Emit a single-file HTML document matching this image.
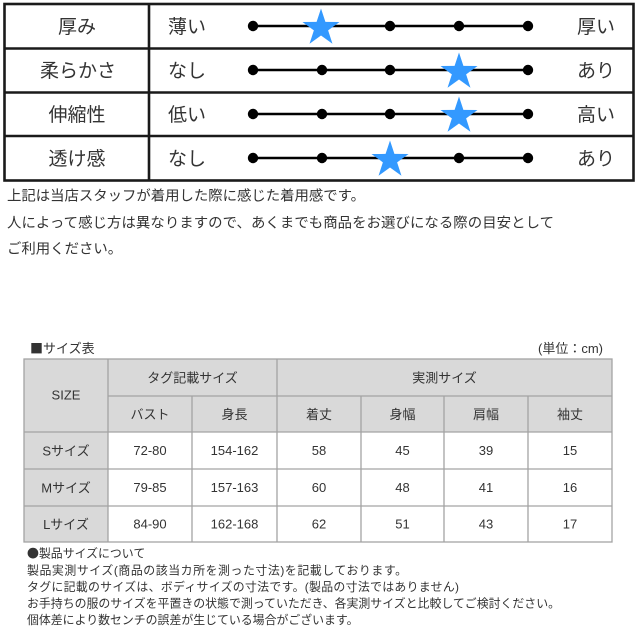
<!DOCTYPE html>
<html>
<head>
<meta charset="utf-8">
<style>
html,body{margin:0;padding:0;background:#fff;}
body{width:640px;height:640px;overflow:hidden;}
svg{display:block;}
text{font-family:"Liberation Sans","Noto Sans CJK JP",sans-serif;fill:#333;}
.cjk{font-family:"Noto Sans CJK JP",sans-serif;}
</style>
</head>
<body>
<svg width="640" height="640" viewBox="0 0 640 640" xmlns="http://www.w3.org/2000/svg">
  <defs>
    <polygon id="star" points="0,-19.5 4.41,-6.07 18.55,-6.03 7.13,2.32 11.46,15.78 0,7.5 -11.46,15.78 -7.13,2.32 -18.55,-6.03 -4.41,-6.07" fill="#3399ff"/>
  </defs>

  <!-- top table -->
  <rect x="4.5" y="4" width="629" height="176.5" fill="#fff" stroke="#1a1a1a" stroke-width="2.6"/>
  <line x1="149" y1="4" x2="149" y2="180.5" stroke="#1a1a1a" stroke-width="2.6"/>
  <line x1="4.5" y1="48.5" x2="633.5" y2="48.5" stroke="#1a1a1a" stroke-width="2.6"/>
  <line x1="4.5" y1="92.5" x2="633.5" y2="92.5" stroke="#1a1a1a" stroke-width="2.6"/>
  <line x1="4.5" y1="136" x2="633.5" y2="136" stroke="#1a1a1a" stroke-width="2.6"/>

  <g font-size="19">
    <text x="77" y="33.2" text-anchor="middle">厚み</text>
    <text x="78" y="77.2" text-anchor="middle">柔らかさ</text>
    <text x="77" y="121.2" text-anchor="middle">伸縮性</text>
    <text x="77" y="165.2" text-anchor="middle">透け感</text>

    <text x="168" y="33.2">薄い</text>
    <text x="168" y="77.2">なし</text>
    <text x="168" y="121.2">低い</text>
    <text x="168" y="165.2">なし</text>

    <text x="577" y="33.2">厚い</text>
    <text x="577" y="77.2">あり</text>
    <text x="577" y="121.2">高い</text>
    <text x="577" y="165.2">あり</text>
  </g>

  <!-- scale lines -->
  <g stroke="#000" stroke-width="2.5">
    <line x1="253" y1="26" x2="528" y2="26"/>
    <line x1="253" y1="70" x2="528" y2="70"/>
    <line x1="253" y1="114" x2="528" y2="114"/>
    <line x1="253" y1="158" x2="528" y2="158"/>
  </g>
  <g fill="#000">
    <circle cx="253" cy="26" r="5.2"/><circle cx="322" cy="26" r="5.2"/><circle cx="390" cy="26" r="5.2"/><circle cx="459" cy="26" r="5.2"/><circle cx="528" cy="26" r="5.2"/>
    <circle cx="253" cy="70" r="5.2"/><circle cx="322" cy="70" r="5.2"/><circle cx="390" cy="70" r="5.2"/><circle cx="459" cy="70" r="5.2"/><circle cx="528" cy="70" r="5.2"/>
    <circle cx="253" cy="114" r="5.2"/><circle cx="322" cy="114" r="5.2"/><circle cx="390" cy="114" r="5.2"/><circle cx="459" cy="114" r="5.2"/><circle cx="528" cy="114" r="5.2"/>
    <circle cx="253" cy="158" r="5.2"/><circle cx="322" cy="158" r="5.2"/><circle cx="390" cy="158" r="5.2"/><circle cx="459" cy="158" r="5.2"/><circle cx="528" cy="158" r="5.2"/>
  </g>
  <use href="#star" transform="translate(321,28)"/>
  <use href="#star" transform="translate(459,72)"/>
  <use href="#star" transform="translate(459,116)"/>
  <use href="#star" transform="translate(390,160)"/>

  <!-- notes under top table -->
  <g font-size="14.4">
    <text x="7" y="200.5" textLength="358" lengthAdjust="spacing">上記は当店スタッフが着用した際に感じた着用感です。</text>
    <text x="7" y="227.5" textLength="547" lengthAdjust="spacing">人によって感じ方は異なりますので、あくまでも商品をお選びになる際の目安として</text>
    <text x="7" y="253.5">ご利用ください。</text>
  </g>

  <!-- size table -->
  <g font-size="13">
    <text x="30" y="353"><tspan class="cjk">■</tspan>サイズ表</text>
    <text x="603" y="353" text-anchor="end">(単位：cm)</text>
  </g>

  <g>
    <rect x="24" y="359" width="588" height="73" fill="#d9d9d9"/>
    <rect x="24" y="432" width="84" height="110" fill="#d9d9d9"/>
  </g>
  <g stroke="#a3a3a3" stroke-width="1.3" fill="none">
    <rect x="24" y="359" width="588" height="183"/>
    <line x1="108" y1="396" x2="612" y2="396"/>
    <line x1="24" y1="432" x2="612" y2="432"/>
    <line x1="24" y1="469" x2="612" y2="469"/>
    <line x1="24" y1="506" x2="612" y2="506"/>
    <line x1="108" y1="359" x2="108" y2="542"/>
    <line x1="192" y1="396" x2="192" y2="542"/>
    <line x1="277" y1="359" x2="277" y2="542"/>
    <line x1="361" y1="396" x2="361" y2="542"/>
    <line x1="444" y1="396" x2="444" y2="542"/>
    <line x1="528" y1="396" x2="528" y2="542"/>
  </g>

  <g font-size="13" text-anchor="middle">
    <text x="66" y="399.7">SIZE</text>
    <text x="192.5" y="382.5">タグ記載サイズ</text>
    <text x="444.5" y="382.5">実測サイズ</text>
    <text x="150" y="419">バスト</text>
    <text x="234.5" y="419">身長</text>
    <text x="319" y="419">着丈</text>
    <text x="402.5" y="419">身幅</text>
    <text x="486" y="419">肩幅</text>
    <text x="570" y="419">袖丈</text>

    <text x="66" y="455.5">Sサイズ</text>
    <text x="150" y="455.2">72-80</text>
    <text x="234.5" y="455.2">154-162</text>
    <text x="319" y="455.2">58</text>
    <text x="402.5" y="455.2">45</text>
    <text x="486" y="455.2">39</text>
    <text x="570" y="455.2">15</text>

    <text x="66" y="492.5">Mサイズ</text>
    <text x="150" y="492.2">79-85</text>
    <text x="234.5" y="492.2">157-163</text>
    <text x="319" y="492.2">60</text>
    <text x="402.5" y="492.2">48</text>
    <text x="486" y="492.2">41</text>
    <text x="570" y="492.2">16</text>

    <text x="66" y="529">Lサイズ</text>
    <text x="150" y="528.7">84-90</text>
    <text x="234.5" y="528.7">162-168</text>
    <text x="319" y="528.7">62</text>
    <text x="402.5" y="528.7">51</text>
    <text x="486" y="528.7">43</text>
    <text x="570" y="528.7">17</text>
  </g>

  <!-- bottom notes -->
  <g font-size="11.9">
    <text x="27" y="557.5"><tspan class="cjk">●</tspan>製品サイズについて</text>
    <text x="27" y="574.5" textLength="380" lengthAdjust="spacing">製品実測サイズ(商品の該当カ所を測った寸法)を記載しております。</text>
    <text x="27" y="591" textLength="432" lengthAdjust="spacing">タグに記載のサイズは、ボディサイズの寸法です。(製品の寸法ではありません)</text>
    <text x="27" y="607.5" textLength="533" lengthAdjust="spacing">お手持ちの服のサイズを平置きの状態で測っていただき、各実測サイズと比較してご検討ください。</text>
    <text x="27" y="624">個体差により数センチの誤差が生じている場合がございます。</text>
  </g>
</svg>
</body>
</html>
